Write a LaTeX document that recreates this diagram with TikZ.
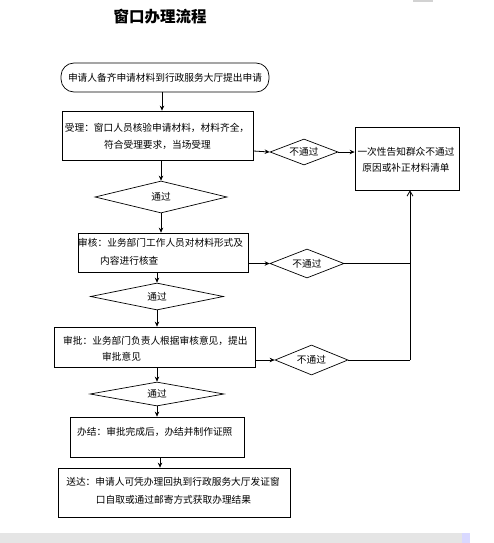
\documentclass[tikz,border=0pt]{standalone}
\usepackage{fontspec}
\newfontfamily\cjk{Noto Sans CJK SC}
\usetikzlibrary{shapes.geometric,arrows.meta}
\begin{document}
\begin{tikzpicture}[x=1pt,y=-1pt,
  box/.style={draw,line width=0.7pt,inner sep=0pt},
  dia/.style={draw,line width=0.7pt,diamond,inner sep=0pt},
  txt/.style={font=\cjk\fontsize{9.7}{11}\selectfont,inner sep=0pt},
  arr/.style={line width=0.8pt,-{Stealth[length=5pt,width=4.5pt]}},
  ln/.style={line width=0.8pt}]
\useasboundingbox (0,0) rectangle (493,543);
% title
\node[font=\cjk\bfseries\fontsize{15.5}{18}\selectfont,inner sep=0pt] (title) at (160,17) {窗口办理流程};
% decoration
\fill[gray!35] (413,0) rectangle (433,2);
\fill[gray!20] (0,533) rectangle (462,543);
\fill[blue!15] (462,533) rectangle (470,543);
% start
\node[box,rounded corners=13pt,minimum width=208pt,minimum height=29pt] (start) at (165,77.5) {};
\node[txt] (tstart) at (165,77.5) {申请人备齐申请材料到行政服务大厅提出申请};
% boxes
\node[box,minimum width=191pt,minimum height=49pt] (b1) at (157.5,135.5) {};
\node[txt] (t1a) at (157,128) {受理：窗口人员核验申请材料，材料齐全，};
\node[txt] (t1b) at (157.5,145) {符合受理要求，当场受理};
\node[box,minimum width=104pt,minimum height=63pt] (r) at (407,158.5) {};
\node[txt] (tra) at (406,152) {一次性告知群众不通过};
\node[txt] (trb) at (406,168) {原因或补正材料清单};
\node[box,minimum width=170pt,minimum height=39pt] (b2) at (163,252.5) {};
\node[txt,anchor=west] (t2a) at (78,243) {审核：业务部门工作人员对材料形式及};
\node[txt,anchor=west] (t2b) at (100,261) {内容进行核查};
\node[box,minimum width=201pt,minimum height=40pt] (b3) at (154.5,347) {};
\node[txt,anchor=west] (t3a) at (63,341) {审批：业务部门负责人根据审核意见，提出};
\node[txt,anchor=west] (t3b) at (102,357) {审批意见};
\node[box,minimum width=174pt,minimum height=40pt] (b4) at (157,437) {};
\node[txt,anchor=west] (t4) at (77,432) {办结：审批完成后，办结并制作证照};
\node[box,minimum width=232pt,minimum height=49pt] (b5) at (174,492.5) {};
\node[txt] (t5a) at (173,482) {送达：申请人可凭办理回执到行政服务大厅发证窗};
\node[txt] (t5b) at (173.5,500) {口自取或通过邮寄方式获取办理结果};
% diamonds
\node[dia,minimum width=132pt,minimum height=32pt] (d1) at (161,197) {};
\node[txt] (td1) at (161,197) {通过};
\node[dia,minimum width=133pt,minimum height=27pt] (d2) at (157,296.5) {};
\node[txt] (td2) at (157,297) {通过};
\node[dia,minimum width=134pt,minimum height=24pt] (d3) at (157,394) {};
\node[txt] (td3) at (157,394) {通过};
\node[dia,minimum width=68pt,minimum height=26pt] (n1) at (304,152) {};
\node[txt] (tn1) at (304,152) {不通过};
\node[dia,minimum width=74pt,minimum height=29pt] (n2) at (307,263.5) {};
\node[txt] (tn2) at (307,264) {不通过};
\node[dia,minimum width=73pt,minimum height=30pt] (n3) at (311.5,360) {};
\node[txt] (tn3) at (311.5,360) {不通过};
\coordinate (j2) at (410,263.5);
\coordinate (j3) at (410,360);
% connectors
\draw[arr] (start.south -| 162,0) -- (b1.north -| 162,0);
\draw[arr] (b1.south -| d1.north) -- (d1.north);
\draw[arr] (b1.east |- 0,151) -- (n1.west);
\draw[arr] (n1.east) -- (r.west |- n1.east);
\draw[arr] (d1.south) -- (b2.north -| d1.south);
\draw[arr] (b2.east |- n2.west) -- (n2.west);
\draw[ln] (n2.east) -- (j2);
\draw[arr] (b2.south -| d2.north) -- (d2.north);
\draw[arr] (d2.south) -- (b3.north -| d2.south);
\draw[arr] (b3.east |- n3.west) -- (n3.west);
\draw[ln] (n3.east) -- (j3);
\draw[line width=0.8pt,-{Straight Barb[length=5pt,width=6pt]}] (j3) -- (r.south -| j3);
\draw[arr] (b3.south -| d3.north) -- (d3.north);
\draw[arr] (d3.south) -- (b4.north -| d3.south);
\draw[arr] (b4.south -| 160,0) -- (b5.north -| 160,0);
\end{tikzpicture}
\end{document}
